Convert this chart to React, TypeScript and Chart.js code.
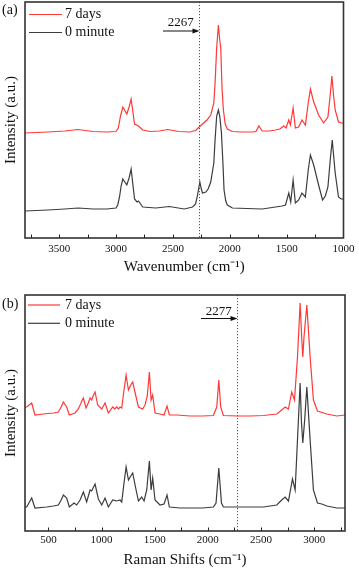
import React, { useEffect, useRef } from "react";
import { Chart, registerables } from "chart.js";

Chart.register(...registerables);

const SERIF = '"Liberation Serif", "Times New Roman", serif';
const RED = "#ff3838";
const DARK = "#3c3c3c";

const legendLabels = ["7 days", "0 minute"];
const yTitle = "Intensity (a.u.)";

// ---- Panel (a): wavenumber (cm-1), [x, intensity]
const aTitle = "Wavenumber (cm\u207B\u00B9)";
const aTickLabels = [3500, 3000, 2500, 2000, 1500, 1000];
const aTickMarks = [3750, 3500, 3250, 3000, 2750, 2500, 2250, 2000, 1750, 1500, 1250, 1000];
const aMarker = 2267;
const aRed = [
  [3800, 105], [3700, 105.5], [3600, 106], [3450, 107], [3334, 108.5], [3200, 106.5], [3080, 106],
  [3000, 106.5], [2980, 110], [2960, 122], [2940, 131], [2905, 124], [2885, 131], [2867, 139],
  [2850, 125], [2837, 114], [2802, 112], [2765, 108], [2700, 106.5], [2620, 107], [2546, 108.5],
  [2450, 106.5], [2350, 106], [2300, 107.5], [2269, 111], [2230, 115], [2200, 118], [2167, 123],
  [2140, 135], [2129, 155], [2115, 190], [2100, 213], [2088, 198], [2079, 190], [2068, 150],
  [2056, 128], [2040, 114], [2021, 109], [1977, 106.5], [1900, 106], [1800, 106], [1770, 106.5],
  [1744, 112], [1715, 107], [1650, 107], [1598, 108], [1560, 109], [1525, 112], [1505, 110],
  [1481, 118], [1467, 113], [1443, 130], [1423, 110], [1394, 111], [1365, 118], [1335, 113],
  [1310, 135], [1291, 149], [1262, 136], [1219, 123], [1175, 115], [1137, 121], [1115, 145],
  [1102, 162], [1085, 140], [1073, 128], [1044, 116], [1020, 115], [1000, 115],
];
const aBlack = [
  [3800, 27], [3700, 27.5], [3600, 28], [3450, 29], [3334, 30], [3200, 29], [3080, 29], [3000, 30],
  [2985, 33], [2969, 41], [2955, 52], [2940, 59], [2905, 53], [2885, 60], [2867, 69], [2850, 52],
  [2837, 39], [2815, 36], [2802, 37], [2765, 31], [2650, 30], [2531, 31.5], [2400, 29], [2327, 31],
  [2300, 34], [2283, 43], [2263, 56], [2250, 49], [2240, 45], [2210, 46], [2190, 49], [2167, 56],
  [2140, 75], [2129, 98], [2115, 122], [2100, 128], [2088, 122], [2073, 105], [2060, 75], [2050, 48],
  [2035, 37], [2021, 33], [1977, 30], [1850, 29.5], [1715, 29], [1598, 31], [1540, 32], [1510, 33],
  [1481, 45], [1464, 36], [1443, 58], [1423, 35], [1394, 38], [1365, 45], [1335, 41], [1310, 68],
  [1291, 83], [1262, 73], [1219, 53], [1184, 38], [1160, 42], [1137, 51], [1115, 80], [1099, 98],
  [1085, 80], [1073, 65], [1044, 41], [1020, 39], [1000, 39],
];

// ---- Panel (b): Raman shift (cm-1), [x, intensity]
const bTitle = "Raman Shifts (cm\u207B\u00B9)";
const bTickLabels = [500, 1000, 1500, 2000, 2500, 3000];
const bTickMarks = [500, 750, 1000, 1250, 1500, 1750, 2000, 2250, 2500, 2750, 3000, 3250];
const bMarker = 2277;
const bRed = [
  [280, 124], [296, 124], [343, 128], [374, 116], [453, 117], [547, 118], [594, 119], [620, 124],
  [641, 129], [672, 124], [697, 116], [751, 118], [782, 122], [815, 130], [829, 133], [854, 123],
  [875, 128], [892, 133], [907, 131], [925, 136], [939, 139], [964, 126], [1002, 122], [1033, 128],
  [1064, 118], [1105, 124], [1125, 122], [1143, 124], [1160, 122], [1174, 124], [1190, 123],
  [1210, 140], [1231, 156], [1253, 141], [1275, 146], [1293, 149], [1325, 134], [1347, 124],
  [1387, 122], [1409, 126], [1430, 135], [1450, 159], [1466, 131], [1481, 136], [1503, 118],
  [1550, 117], [1588, 116], [1616, 125], [1638, 116], [1707, 116], [1833, 115], [1950, 115],
  [2052, 115.5], [2084, 124], [2103, 151], [2121, 124], [2146, 115.5], [2278, 115], [2400, 115],
  [2523, 115.5], [2648, 117], [2695, 121], [2727, 124], [2758, 122], [2789, 139], [2815, 131],
  [2843, 174], [2868, 228], [2882, 195], [2893, 174], [2905, 195], [2931, 226], [2962, 174],
  [2993, 131], [3031, 120], [3119, 117], [3213, 115], [3290, 116],
];
const bBlack = [
  [280, 24], [296, 24], [343, 33], [374, 23], [484, 24], [547, 25], [594, 26], [620, 31], [641, 36],
  [672, 33], [697, 24], [741, 28], [766, 26], [798, 31], [829, 39], [860, 29], [892, 41], [907, 40],
  [925, 44], [939, 47], [970, 32], [1002, 26], [1033, 33], [1064, 24], [1105, 31], [1143, 30],
  [1174, 31], [1190, 29], [1210, 47], [1231, 64], [1253, 51], [1275, 55], [1293, 58], [1325, 41],
  [1347, 30], [1378, 34], [1400, 30], [1425, 41], [1450, 70], [1466, 41], [1481, 53], [1503, 31],
  [1550, 26], [1588, 27], [1616, 36], [1638, 24], [1739, 23], [1833, 23], [1950, 23], [2052, 24],
  [2077, 28], [2103, 63], [2128, 28], [2146, 24], [2278, 24], [2400, 24], [2523, 24], [2648, 26],
  [2695, 31], [2727, 34], [2758, 30], [2796, 52], [2821, 41], [2843, 91], [2868, 148], [2880, 110],
  [2893, 88], [2910, 110], [2931, 144], [2962, 91], [2993, 41], [3031, 28], [3072, 27], [3119, 25],
  [3213, 23], [3290, 23],
];

type Panel = {
  letter: string;
  red: number[][];
  black: number[][];
  min: number;
  max: number;
  reverse: boolean;
  tickLabels: number[];
  tickMarks: number[];
  marker: number;
  title: string;
  padTop: number;
  xAxisHeight: number;
  tickPad: number;
  titlePad: number;
  letterY: number;
  legendY: number[];
  legendX: number[];
  noteY: number;
  arrowY: number;
  arrowStart: number;
};

const panelA: Panel = {
  letter: "(a)", red: aRed, black: aBlack, min: 1000, max: 3800, reverse: true,
  tickLabels: aTickLabels, tickMarks: aTickMarks, marker: aMarker, title: aTitle,
  padTop: 2, xAxisHeight: 47, tickPad: 4.5, titlePad: 9,
  letterY: 10, legendY: [14.5, 32.5], legendX: [29, 62, 65],
  noteY: 23, arrowY: 31, arrowStart: 163,
};
const panelB: Panel = {
  letter: "(b)", red: bRed, black: bBlack, min: 280, max: 3290, reverse: false,
  tickLabels: bTickLabels, tickMarks: bTickMarks, marker: bMarker, title: bTitle,
  padTop: 10, xAxisHeight: 39, tickPad: 3, titlePad: 1,
  letterY: 19, legendY: [20, 38.3], legendX: [28, 60, 65],
  noteY: 27, arrowY: 33.5, arrowStart: 201,
};

const toPoints = (arr: number[][]) => arr.map(([x, y]) => ({ x, y }));

function decorPlugin(p: Panel) {
  return {
    id: "decor" + p.letter,
    afterDraw(chart: any) {
      const { ctx, chartArea: a } = chart;
      const xs = chart.scales.x;
      ctx.save();
      // tick marks (inside)
      ctx.strokeStyle = "#222";
      ctx.lineWidth = 1;
      ctx.beginPath();
      for (const v of p.tickMarks) {
        const px = Math.round(xs.getPixelForValue(v)) + 0.5;
        if (px < a.left || px > a.right) continue;
        ctx.moveTo(px, a.bottom);
        ctx.lineTo(px, a.bottom - 3.5);
      }
      ctx.stroke();
      // dotted marker line
      const mx = Math.round(xs.getPixelForValue(p.marker)) + 0.5;
      ctx.strokeStyle = "#555";
      ctx.setLineDash([1.2, 1.8]);
      ctx.beginPath();
      ctx.moveTo(mx, a.top);
      ctx.lineTo(mx, a.bottom);
      ctx.stroke();
      ctx.setLineDash([]);
      // frame
      ctx.strokeStyle = "#333";
      ctx.lineWidth = 1.6;
      ctx.strokeRect(a.left, a.top, a.right - a.left, a.bottom - a.top);
      // arrow annotation
      ctx.strokeStyle = "#111";
      ctx.fillStyle = "#111";
      ctx.lineWidth = 1;
      ctx.beginPath();
      ctx.moveTo(p.arrowStart, p.arrowY);
      ctx.lineTo(mx - 4, p.arrowY);
      ctx.stroke();
      ctx.beginPath();
      ctx.moveTo(mx, p.arrowY);
      ctx.lineTo(mx - 7, p.arrowY - 2.5);
      ctx.lineTo(mx - 7, p.arrowY + 2.5);
      ctx.closePath();
      ctx.fill();
      ctx.font = `13px ${SERIF}`;
      ctx.textAlign = "center";
      ctx.textBaseline = "middle";
      ctx.fillText(String(p.marker), (p.arrowStart + mx) / 2 - 0.5, p.noteY);
      // legend
      const colors = [RED, DARK];
      ctx.font = `14px ${SERIF}`;
      ctx.textAlign = "left";
      legendLabels.forEach((lab, i) => {
        ctx.strokeStyle = colors[i];
        ctx.lineWidth = 1.2;
        ctx.beginPath();
        ctx.moveTo(p.legendX[0], p.legendY[i]);
        ctx.lineTo(p.legendX[1], p.legendY[i]);
        ctx.stroke();
        ctx.fillStyle = "#111";
        ctx.fillText(lab, p.legendX[2], p.legendY[i]);
      });
      // panel letter
      ctx.font = `14px ${SERIF}`;
      ctx.fillText(p.letter, 2, p.letterY);
      ctx.restore();
    },
  };
}

function makeChart(canvas: HTMLCanvasElement, p: Panel) {
  return new Chart(canvas, {
    type: "line",
    data: {
      datasets: [
        {
          label: legendLabels[0],
          data: toPoints(p.red),
          borderColor: RED,
          borderWidth: 1.2,
          pointRadius: 0,
          tension: 0,
        },
        {
          label: legendLabels[1],
          data: toPoints(p.black),
          borderColor: DARK,
          borderWidth: 1.2,
          pointRadius: 0,
          tension: 0,
        },
      ],
    },
    options: {
      responsive: false,
      animation: false,
      events: [],
      layout: { padding: { left: 0, right: 14, top: p.padTop, bottom: 0 } },
      plugins: { legend: { display: false }, tooltip: { enabled: false } },
      scales: {
        x: {
          type: "linear",
          min: p.min,
          max: p.max,
          reverse: p.reverse,
          grid: { display: false, drawTicks: false, tickLength: 0 },
          border: { display: false },
          afterBuildTicks: (s: any) => {
            s.ticks = p.tickLabels.map((v) => ({ value: v }));
          },
          afterFit: (s: any) => {
            s.height = p.xAxisHeight;
          },
          ticks: {
            font: { family: SERIF, size: 11 },
            color: "#111",
            padding: p.tickPad,
            maxRotation: 0,
            autoSkip: false,
            callback: (v: any) => String(v),
          },
          title: {
            display: true,
            text: p.title,
            font: { family: SERIF, size: 15 },
            color: "#111",
            padding: { top: 0, bottom: p.titlePad },
          },
        },
        y: {
          type: "linear",
          min: 0,
          max: 236,
          grid: { display: false, drawTicks: false },
          border: { display: false },
          ticks: { display: false },
          afterFit: (s: any) => {
            s.width = 25;
          },
          title: {
            display: true,
            text: yTitle,
            font: { family: SERIF, size: 15 },
            color: "#111",
            padding: { top: 2, bottom: 0 },
          },
        },
      },
    } as any,
    plugins: [decorPlugin(p)],
  });
}

export default function App() {
  const refA = useRef<HTMLCanvasElement>(null);
  const refB = useRef<HTMLCanvasElement>(null);
  useEffect(() => {
    const ca = makeChart(refA.current!, panelA);
    const cb = makeChart(refB.current!, panelB);
    return () => {
      ca.destroy();
      cb.destroy();
    };
  }, []);
  return (
    <div style={{ position: "absolute", left: 0, top: 0, width: 359, height: 570, background: "#fff" }}>
      <canvas ref={refA} width={359} height={285} style={{ position: "absolute", left: 0, top: 0 }} />
      <canvas ref={refB} width={359} height={285} style={{ position: "absolute", left: 0, top: 285 }} />
    </div>
  );
}
